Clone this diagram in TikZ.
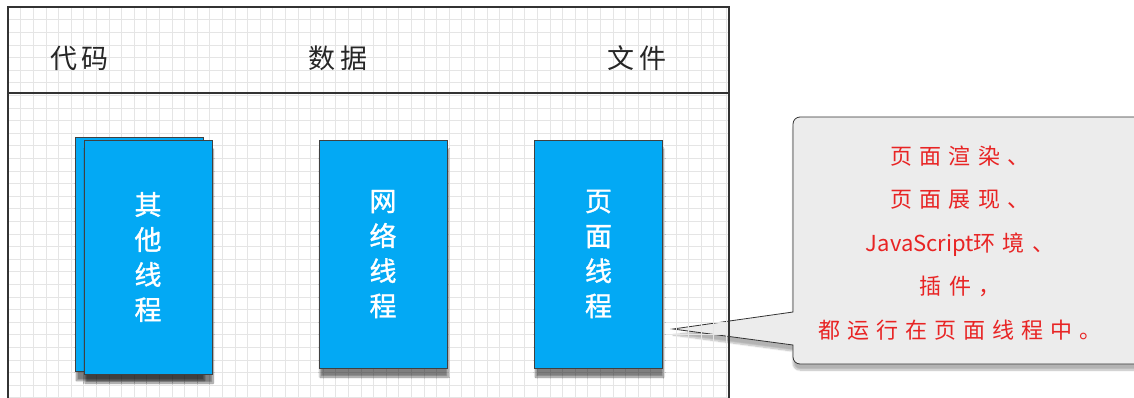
\documentclass[tikz,border=0pt]{standalone}
\usepackage{fontspec}
\usepackage{tikz}
\usetikzlibrary{shadows.blur}
\newfontfamily\headfont[LetterSpace=15]{Noto Sans CJK SC}
\newfontfamily\notefont[LetterSpace=32]{Noto Sans CJK SC}
\newfontfamily\plainfont{Noto Sans CJK SC}
\newfontfamily\boldfont[FakeBold=1.2]{Noto Sans CJK SC}
\definecolor{threadblue}{RGB}{3,169,244}
\definecolor{notegray}{RGB}{236,236,236}
\definecolor{notered}{RGB}{232,36,36}

\begin{document}
\begin{tikzpicture}
  [x=1pt, y=1pt,
   gridline/.style={draw=black!10, line width=0.4pt},
   frame/.style={draw=black!80, line width=1.1pt},
   heading/.style={font=\headfont\fontsize{27}{30}\selectfont, text=black!85},
   thread/.style={draw=black!75, line width=0.6pt, fill=threadblue, text=white,
     minimum width=128pt, minimum height=228pt, inner sep=0pt, align=center,
     font=\boldfont\fontsize{27}{35}\selectfont,
     blur shadow={shadow xshift=1pt, shadow yshift=-9pt, shadow blur steps=8, shadow opacity=50}},
   notebox/.style={draw=black!80, line width=0.8pt, fill=notegray,
     blur shadow={shadow xshift=0pt, shadow yshift=-6pt, shadow blur steps=8, shadow opacity=30}}]
\useasboundingbox (0,0) rectangle (1134,-398);

\coordinate (tip) at (673,-329);
\path[notebox] (793,-312) [rounded corners=7] -- (793,-117) -- (1150,-117)
  -- (1150,-364) -- (793,-364) [sharp corners] -- (793,-345) -- (tip) -- cycle;

\draw[gridline, xshift=8pt, yshift=-7pt] (0,-391) grid[step=12.6] (721,0);
\draw[frame] (8,-398) -- (8,-7) -- (729,-7) -- (729,-398);
\draw[frame] (8,-93) -- (729,-93);

\node[heading] (code) at (80,-58) {代码};
\node[heading] (data) at (338,-58) {数据};
\node[heading] (file) at (637,-58) {文件};

\node[thread, minimum height=234pt] (otherback) at (139.5,-254.5) {};
\node[thread, minimum height=234pt] (other) at (148,-257) {其\\他\\线\\程};
\node[thread] (network) at (383,-254) {网\\络\\线\\程};
\node[thread] (page) at (598.5,-254) {页\\面\\线\\程};

\node[align=center, text=notered, font=\notefont\fontsize{22}{43.5}\selectfont] (note) at (960,-243)
  {页面渲染、\\页面展现、\\{\plainfont JavaScript}环境、\\插件，\\都运行在页面线程中。};
\end{tikzpicture}
\end{document}
